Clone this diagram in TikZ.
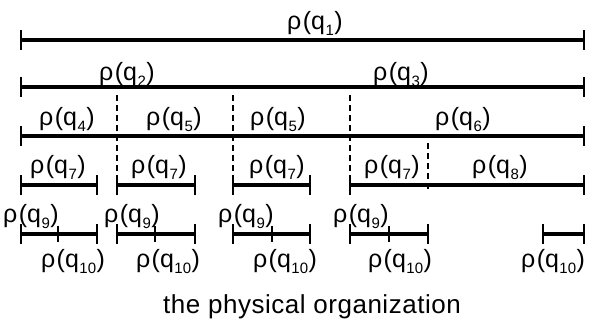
\documentclass[tikz,border=0pt]{standalone}
\usepackage{fontspec}
\setmainfont{Liberation Sans}
\newcommand\lbl[1]{ρ\kern1.5pt(q\kern0.5pt\raisebox{-6pt}{\fontsize{15}{15}\selectfont#1}\kern0.5pt)}
\tikzset{
  bar/.style={line width=3.8pt},
  barend/.style={line width=1.8pt},
  divider/.style={line width=1.4pt, dash pattern=on 6pt off 4pt},
  lab/.style={anchor=base, inner sep=0pt, font=\fontsize{25}{25}\selectfont},
  captext/.style={anchor=base, inner sep=0pt, font=\fontsize{26}{26}\selectfont\addfontfeatures{LetterSpace=2}},
}
\newcommand\seg[3]{%
  \draw[bar] (#1,#3) -- (#2,#3);
  \draw[barend] (#1,#3-10) -- (#1,#3+10);
  \draw[barend] (#2,#3-10) -- (#2,#3+10);}
\newcommand\mtick[2]{\draw[barend] (#1,#2-8) -- (#1,#2+8);}
\begin{document}
\begin{tikzpicture}[x=1pt,y=-1pt]
\useasboundingbox (0,0) rectangle (589,322);
% dividers
\draw[divider] (117,95) -- (117,176);
\draw[divider] (233,95) -- (233,176);
\draw[divider] (350,95) -- (350,176);
\draw[divider] (428,143) -- (428,192);
% row 1
\seg{21}{584}{40}
\node[lab] (l1) at (315,29) {\lbl{1}};
% row 2
\seg{21}{584}{87}
\node[lab] (l2) at (127,80) {\lbl{2}};
\node[lab] (l3) at (401,80) {\lbl{3}};
% row 3
\seg{21}{584}{136}
\node[lab] (l4) at (67,125) {\lbl{4}};
\node[lab] (l5a) at (174,125) {\lbl{5}};
\node[lab] (l5b) at (278,125) {\lbl{5}};
\node[lab] (l6) at (463,125) {\lbl{6}};
% row 4
\seg{21}{97}{185}
\seg{117}{195}{185}
\seg{233}{310}{185}
\seg{350}{584}{185}
\node[lab] (l7a) at (58,173) {\lbl{7}};
\node[lab] (l7b) at (159,173) {\lbl{7}};
\node[lab] (l7c) at (277,173) {\lbl{7}};
\node[lab] (l7d) at (392,173) {\lbl{7}};
\node[lab] (l8) at (500,173) {\lbl{8}};
% row 5
\seg{21}{97}{234} \mtick{58}{234}
\seg{117}{195}{234} \mtick{155}{234}
\seg{233}{310}{234} \mtick{272}{234}
\seg{350}{428}{234} \mtick{389}{234}
\seg{543}{584}{234}
\node[lab] (l9a) at (31,222) {\lbl{9}};
\node[lab] (l9b) at (132,222) {\lbl{9}};
\node[lab] (l9c) at (246,222) {\lbl{9}};
\node[lab] (l9d) at (361,222) {\lbl{9}};
\node[lab] (l10a) at (73,267) {\lbl{10}};
\node[lab] (l10b) at (168,267) {\lbl{10}};
\node[lab] (l10c) at (285,267) {\lbl{10}};
\node[lab] (l10d) at (400,267) {\lbl{10}};
\node[lab] (l10e) at (553,267) {\lbl{10}};
% caption
\node[captext] (captn) at (312,313) {the physical organization};
\end{tikzpicture}
\end{document}
